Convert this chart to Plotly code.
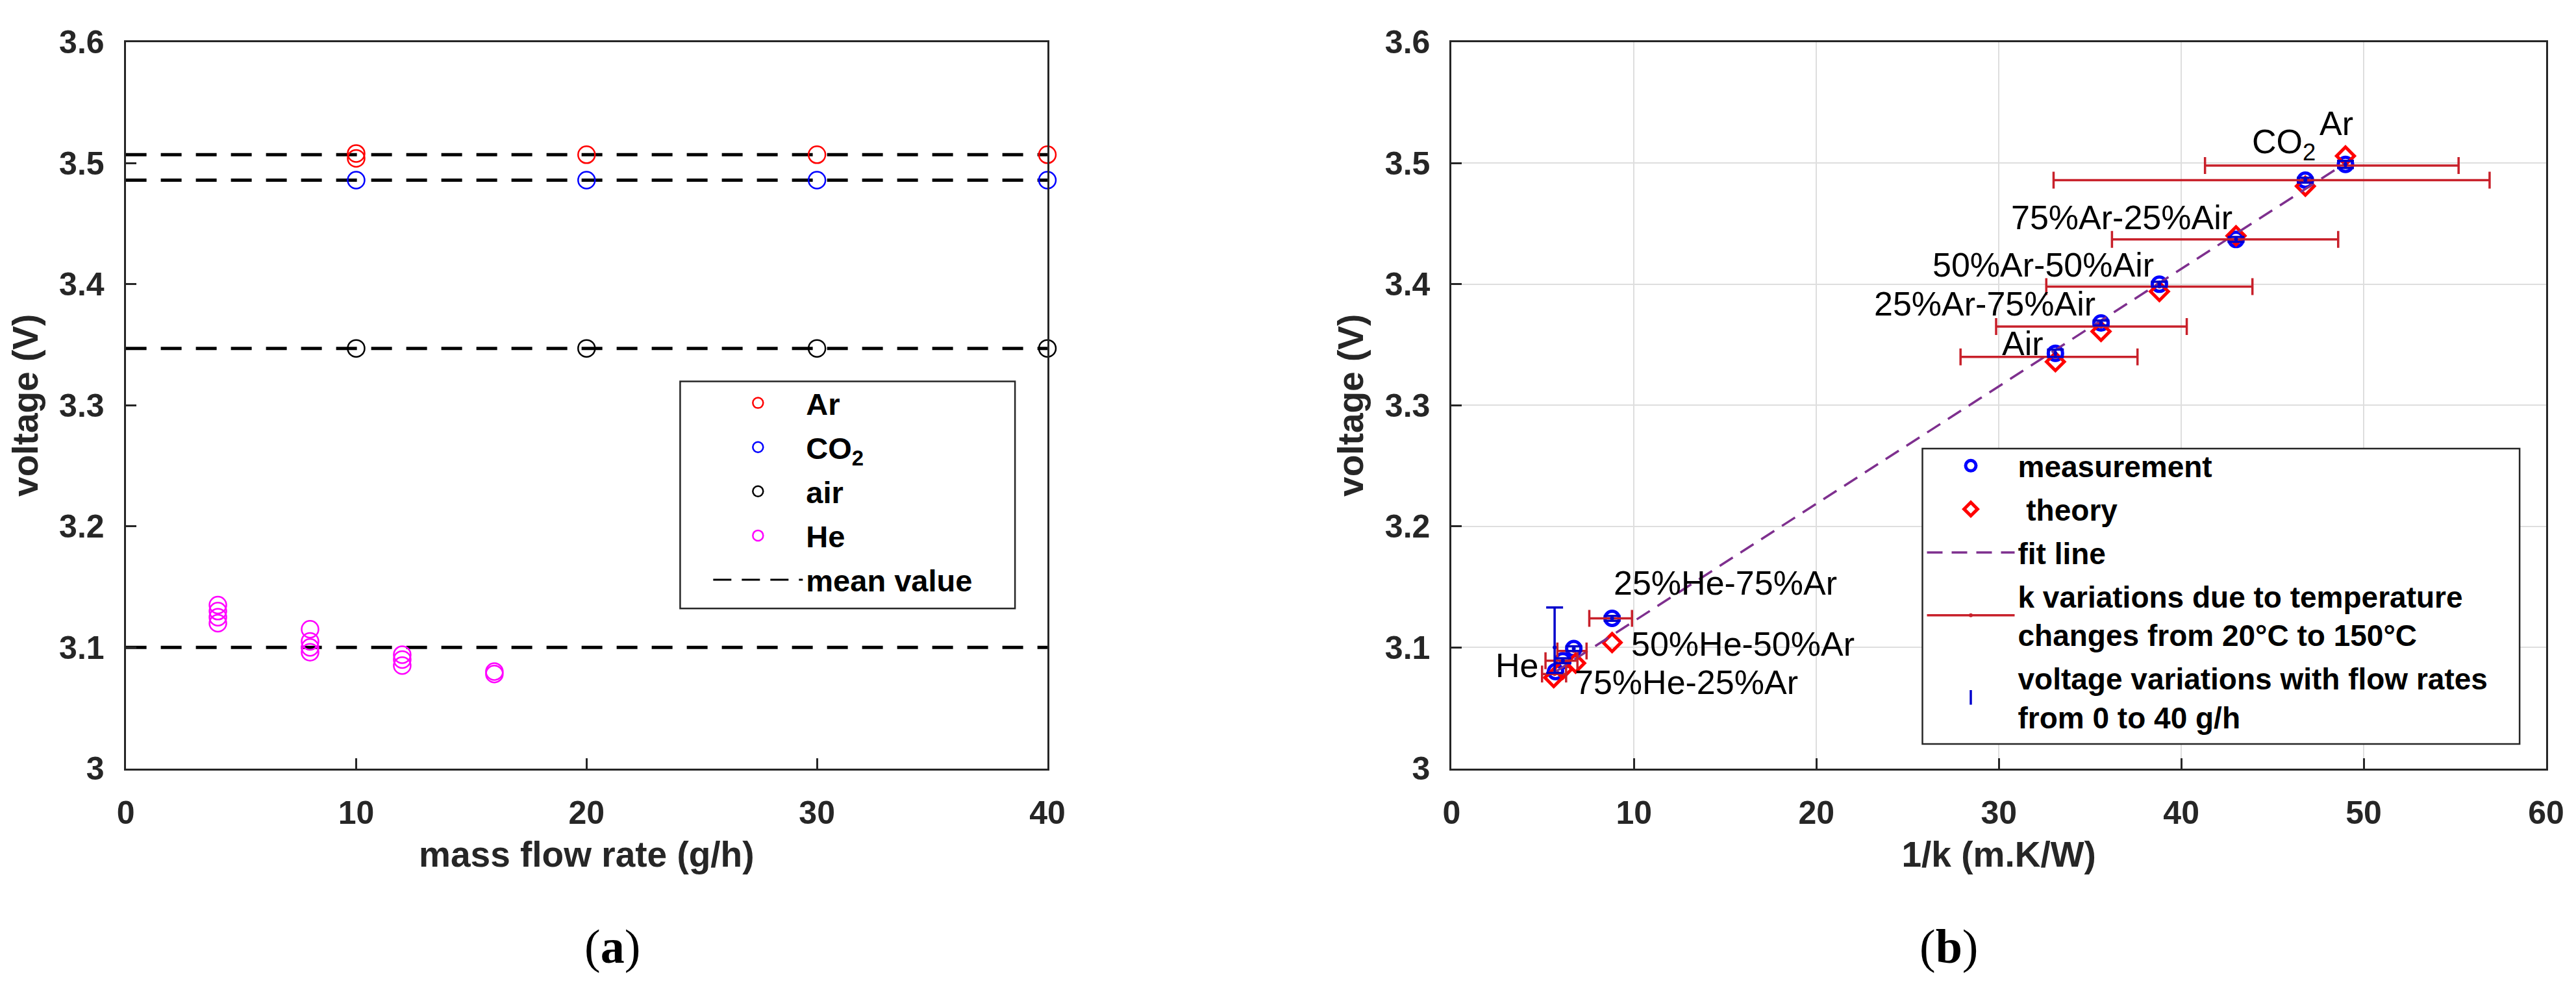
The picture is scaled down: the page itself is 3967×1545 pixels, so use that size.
import plotly.graph_objects as go

# ---------------- data : panel (a) ----------------
ar_x = [10, 10, 20, 30, 40]
ar_y = [3.508, 3.504, 3.507, 3.507, 3.507]
co2_x = [10, 20, 30, 40]
co2_y = [3.486, 3.486, 3.486, 3.486]
air_x = [10, 20, 30, 40]
air_y = [3.347, 3.347, 3.347, 3.347]
he_x = [4, 4, 4, 4, 8, 8, 8, 8, 12, 12, 12, 16, 16]
he_y = [3.135, 3.130, 3.125, 3.120, 3.115, 3.105, 3.100, 3.096,
        3.094, 3.090, 3.085, 3.080, 3.078]
mean_names = ["Ar", "CO2", "air", "He"]
mean_vals = [3.507, 3.486, 3.347, 3.100]
mean_span = [0, 40]

# ---------------- data : panel (b) ----------------
gas = ["Ar", "CO2", "75%Ar-25%Air", "50%Ar-50%Air", "25%Ar-75%Air", "Air",
       "25%He-75%Ar", "50%He-50%Ar", "75%He-25%Ar", "He"]
meas_x = [49.0, 46.8, 43.0, 38.8, 35.6, 33.1, 8.8, 6.7, 6.1, 5.7]
meas_y = [3.499, 3.486, 3.437, 3.400, 3.368, 3.343, 3.124, 3.099, 3.089, 3.080]
theo_x = [49.0, 46.8, 43.0, 38.8, 35.6, 33.1, 8.8, 6.8, 6.1, 5.6]
theo_y = [3.506, 3.481, 3.440, 3.394, 3.361, 3.336, 3.104, 3.087, 3.082, 3.075]
fit_x = [5.6, 49.0]
fit_y = [3.079, 3.500]
kbar_x = [49.0, 46.8, 43.0, 38.8, 35.6, 33.1, 8.8, 6.7, 6.1, 5.65]
kbar_y = [3.498, 3.486, 3.437, 3.398, 3.365, 3.340, 3.124, 3.097, 3.089, 3.078]
kbar_minus = [7.7, 13.8, 6.8, 6.2, 5.75, 5.2, 1.25, 0.9, 0.95, 0.69]
kbar_plus = [6.2, 10.1, 5.6, 5.1, 4.7, 4.5, 1.09, 0.7, 0.8, 0.63]
volt_x = [49.0, 46.8, 43.0, 38.8, 35.6, 33.1, 8.8, 6.7, 6.1, 5.65]
volt_y = [3.499, 3.486, 3.437, 3.400, 3.368, 3.343, 3.124, 3.099, 3.089, 3.100]
volt_minus = [0.003, 0.002, 0.002, 0.002, 0.002, 0.003, 0.002, 0.002, 0.002, 0.021]
volt_plus = [0.003, 0.002, 0.002, 0.002, 0.002, 0.003, 0.002, 0.002, 0.002, 0.033]

lbl_text = ["Ar", "CO<sub>2</sub>", "75%Ar-25%Air", "50%Ar-50%Air", "25%Ar-75%Air",
            "Air", "25%He-75%Ar", "50%He-50%Ar", "75%He-25%Ar", "He"]
lbl_x = [47.5, 43.8, 30.6, 26.3, 23.1, 30.1, 8.8, 9.76, 6.67, 2.34]
lbl_y = [3.533, 3.516, 3.455, 3.416, 3.384, 3.351, 3.153, 3.103, 3.071, 3.085]

yticks = [3.0, 3.1, 3.2, 3.3, 3.4, 3.5, 3.6]
ytick_text = ["3", "3.1", "3.2", "3.3", "3.4", "3.5", "3.6"]
xticks_a = [0, 10, 20, 30, 40]
xticks_b = [0, 10, 20, 30, 40, 50, 60]

# ---------------- geometry ----------------
W, H = 3967, 1545
ML, MR, MT, MB = 40, 30, 30, 100
PW, PH = W - ML - MR, H - MT - MB


def px(xp):
    return (xp - ML) / PW


def py(yp):
    return (H - MB - yp) / PH


SANS = "Liberation Sans, Arial, Helvetica, sans-serif"
DARK = "#262626"
RED_BAR = "#C8202A"

fig = go.Figure()

# ----- panel (a) -----
for name, m in zip(mean_names, mean_vals):
    fig.add_trace(go.Scatter(
        x=mean_span, y=[m, m], mode="lines",
        line=dict(color="black", width=5, dash="32px,22px"),
        name="mean value", showlegend=False, legend="legend",
        xaxis="x", yaxis="y"))

for xs, ys, col, nm in [(ar_x, ar_y, "#FF0000", "Ar"),
                        (co2_x, co2_y, "#0000FF", "CO<sub>2</sub>"),
                        (air_x, air_y, "#000000", "air"),
                        (he_x, he_y, "#FF00FF", "He")]:
    fig.add_trace(go.Scatter(
        x=xs, y=ys, mode="markers", name=nm, legend="legend", legendgroup=nm,
        cliponaxis=False,
        marker=dict(symbol="circle-open", size=26, color=col,
                    line=dict(color=col, width=2.5)),
        xaxis="x", yaxis="y"))

fig.add_trace(go.Scatter(
    x=[None], y=[None], mode="lines", name="mean value",
    legend="legend", legendgroup="mean",
    line=dict(color="black", width=3, dash="28px,16px"),
    xaxis="x", yaxis="y"))

# ----- panel (b) -----
fig.add_trace(go.Scatter(
    x=meas_x, y=meas_y, mode="markers", name="measurement", legend="legend2",
    legendgroup="m",
    marker=dict(symbol="circle-open", size=22, color="#0000FF",
                line=dict(color="#0000FF", width=5)),
    xaxis="x2", yaxis="y2"))
fig.add_trace(go.Scatter(
    x=theo_x, y=theo_y, mode="markers", name=" theory", legend="legend2",
    legendgroup="t",
    marker=dict(symbol="diamond-open", size=21, color="#FF0000",
                line=dict(color="#FF0000", width=5)),
    xaxis="x2", yaxis="y2"))
fig.add_trace(go.Scatter(
    x=fit_x, y=fit_y, mode="lines", name="fit line", legend="legend2",
    legendgroup="f",
    line=dict(color="#7E2F8E", width=3.5, dash="24px,14px"),
    xaxis="x2", yaxis="y2"))
fig.add_trace(go.Scatter(
    x=kbar_x, y=kbar_y, mode="markers", showlegend=False,
    marker=dict(symbol="circle", size=6, color=RED_BAR),
    error_x=dict(type="data", symmetric=False, array=kbar_plus,
                 arrayminus=kbar_minus, color=RED_BAR, thickness=3.5, width=13),
    xaxis="x2", yaxis="y2"))
fig.add_trace(go.Scatter(
    x=[None], y=[None], mode="lines+markers", legend="legend2", legendgroup="k",
    name="k variations due to temperature<br>changes from 20°C to 150°C",
    line=dict(color=RED_BAR, width=3.5),
    marker=dict(symbol="circle", size=6, color=RED_BAR),
    xaxis="x2", yaxis="y2"))
fig.add_trace(go.Scatter(
    x=volt_x, y=volt_y, mode="markers", showlegend=False,
    marker=dict(symbol="circle", size=6, color="#0000CC"),
    error_y=dict(type="data", symmetric=False, array=volt_plus,
                 arrayminus=volt_minus, color="#0000CC", thickness=3.5, width=13),
    xaxis="x2", yaxis="y2"))
fig.add_trace(go.Scatter(
    x=[None], y=[None], mode="markers", legend="legend2", legendgroup="v",
    name="voltage variations with flow rates<br>from 0 to 40 g/h",
    marker=dict(symbol="line-ns", size=48, color="#0000CC",
                line=dict(color="#0000CC", width=3.5)),
    xaxis="x2", yaxis="y2"))

for t, xv, yv in zip(lbl_text, lbl_x, lbl_y):
    fig.add_annotation(x=xv, y=yv, xref="x2", yref="y2", text=t,
                       showarrow=False, xanchor="left", yanchor="middle",
                       font=dict(family=SANS, size=52, color="black"))

# panel captions
fig.add_annotation(x=px(892), y=py(1493), xref="paper", yref="paper",
                   text="(<b>a</b>)", showarrow=False,
                   font=dict(family="Liberation Serif, DejaVu Serif, serif",
                             size=74, color="black"))
fig.add_annotation(x=px(3048), y=py(1493), xref="paper", yref="paper",
                   text="(<b>b</b>)", showarrow=False,
                   font=dict(family="Liberation Serif, DejaVu Serif, serif",
                             size=74, color="black"))

# legend frames
legend_boxes = [(1042, 574, 1559, 926), (2960, 678, 3882, 1136)]
for (x0, y0, x1, y1) in legend_boxes:
    fig.add_shape(type="rect", xref="paper", yref="paper",
                  x0=px(x0), x1=px(x1), y0=py(y1), y1=py(y0),
                  line=dict(color=DARK, width=2.5), fillcolor="white",
                  layer="above")

tickfont = dict(family=SANS, size=50, color=DARK, weight="bold")
titlefont = dict(family=SANS, size=55, color=DARK, weight="bold")
common = dict(showline=True, linecolor=DARK, linewidth=3, mirror=True,
              ticks="inside", ticklen=16, tickwidth=3, tickcolor=DARK,
              tickfont=tickfont, zeroline=False)

fig.update_layout(
    width=W, height=H, paper_bgcolor="white", plot_bgcolor="white",
    margin=dict(l=ML, r=MR, t=MT, b=MB),
    xaxis=dict(domain=[px(186), px(1609)], range=[0, 40], tickvals=xticks_a,
               showgrid=False, ticklabelstandoff=22,
               title=dict(text="mass flow rate (g/h)", font=titlefont, standoff=18),
               anchor="y", **common),
    yaxis=dict(domain=[py(1174), py(48)], range=[3.0, 3.6], tickvals=yticks,
               ticktext=ytick_text, showgrid=False, ticklabelstandoff=20,
               title=dict(text="voltage (V)", font=titlefont, standoff=16),
               anchor="x", **common),
    xaxis2=dict(domain=[px(2233), px(3923)], range=[0, 60], tickvals=xticks_b,
                showgrid=True, gridcolor="#DEDEDE", gridwidth=2, ticklabelstandoff=22,
                title=dict(text="1/k (m.K/W)", font=titlefont, standoff=18),
                anchor="y2", **common),
    yaxis2=dict(domain=[py(1174), py(48)], range=[3.0, 3.6], tickvals=yticks,
                ticktext=ytick_text, showgrid=True, gridcolor="#DEDEDE", gridwidth=2,
                ticklabelstandoff=20,
                title=dict(text="voltage (V)", font=titlefont, standoff=16),
                anchor="x2", **common),
    legend=dict(x=px(1088), y=py(570), xanchor="left", yanchor="top",
                bgcolor="rgba(0,0,0,0)", borderwidth=0,
                font=dict(family=SANS, size=47, color="black", weight="bold"),
                itemwidth=138, tracegroupgap=4, traceorder="grouped"),
    legend2=dict(x=px(2962), y=py(668), xanchor="left", yanchor="top",
                 bgcolor="rgba(0,0,0,0)", borderwidth=0,
                 font=dict(family=SANS, size=46, color="black", weight="bold"),
                 itemwidth=135, tracegroupgap=4, traceorder="grouped"),
    showlegend=True,
)

fig.write_html("out.html")
